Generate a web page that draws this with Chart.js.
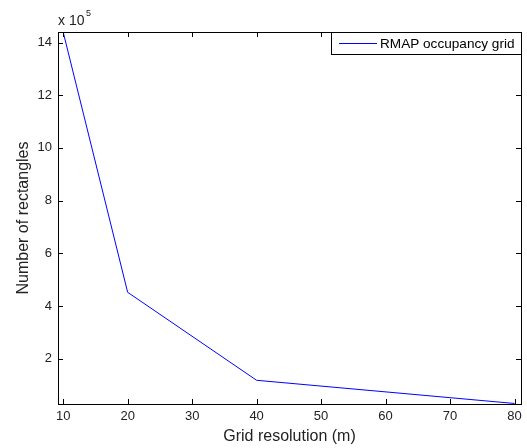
<!DOCTYPE html>
<html>
<head>
<meta charset="utf-8">
<script src="https://cdn.jsdelivr.net/npm/chart.js@4.4.0/dist/chart.umd.min.js"></script>
<style>
  html, body { margin: 0; padding: 0; background: #fff; }
  #wrap { width: 527px; height: 448px; }
</style>
</head>
<body>
<div id="wrap"><canvas id="myChart" width="527" height="448"></canvas></div>
<script>
// values
var gridRes = [10, 20, 40, 80];
var rectCount = [1440000, 452000, 118000, 30000];
var xTicks = [10, 20, 30, 40, 50, 60, 70, 80];
var yTicks = [200000, 400000, 600000, 800000, 1000000, 1200000, 1400000];

var font = "'Liberation Sans', Arial, sans-serif";
var lineBlue = 'rgb(0, 0, 255)';

// MATLAB style box, inward ticks, exponent note and legend
var matlabBits = {
    id: 'matlabBits',
    afterDraw: function (chart) {
        var ctx = chart.ctx;
        var a = chart.chartArea;
        var xs = chart.scales.x, ys = chart.scales.y;
        ctx.save();
        ctx.strokeStyle = '#000';
        ctx.lineWidth = 1;
        ctx.beginPath();
        ctx.rect(Math.round(a.left) + 0.5, Math.round(a.top) + 0.5,
                 Math.round(a.right - a.left), Math.round(a.bottom - a.top));
        ctx.stroke();

        ctx.beginPath();
        xs.ticks.forEach(function (t) {
            var px = Math.round(xs.getPixelForValue(t.value)) + 0.5;
            ctx.moveTo(px, a.bottom); ctx.lineTo(px, a.bottom - 5);
            ctx.moveTo(px, a.top); ctx.lineTo(px, a.top + 5);
        });
        ys.ticks.forEach(function (t) {
            var py = Math.round(ys.getPixelForValue(t.value)) + 0.5;
            ctx.moveTo(a.left, py); ctx.lineTo(a.left + 5, py);
            ctx.moveTo(a.right, py); ctx.lineTo(a.right - 5, py);
        });
        ctx.stroke();

        // x 10^5
        ctx.fillStyle = '#222';
        ctx.font = '14px ' + font;
        ctx.textBaseline = 'alphabetic';
        ctx.textAlign = 'left';
        ctx.fillText('x 10', a.left, 25);
        ctx.font = '9px ' + font;
        ctx.fillText('5', a.left + 28, 16);

        // legend
        var ds = chart.data.datasets[0];
        var lx = 331, ly = Math.round(a.top) + 0.5, lw = Math.round(a.right) - 331, lh = 22;
        ctx.fillStyle = '#fff';
        ctx.fillRect(lx, ly, lw, lh);
        ctx.strokeStyle = '#000';
        ctx.strokeRect(lx + 0.5, ly, lw, lh);
        ctx.strokeStyle = lineBlue;
        ctx.beginPath();
        ctx.moveTo(339, ly + 11); ctx.lineTo(377, ly + 11);
        ctx.stroke();
        ctx.fillStyle = '#000';
        ctx.font = '13.6px ' + font;
        ctx.fillText(ds.label, 380, ly + 15.5);
        ctx.restore();
    }
};

var ctx = document.getElementById('myChart').getContext('2d');
var myChart = new Chart(ctx, {
    type: 'line',
    data: {
        datasets: [{
            label: 'RMAP occupancy grid',
            data: gridRes.map(function (x, i) { return { x: x, y: rectCount[i] }; }),
            borderColor: lineBlue,
            borderWidth: 1,
            pointRadius: 0,
            tension: 0,
            fill: false
        }]
    },
    options: {
        responsive: false,
        animation: false,
        layout: { padding: { top: 32, right: 6, left: 0, bottom: 0 } },
        plugins: { legend: { display: false }, tooltip: { enabled: false } },
        scales: {
            x: {
                type: 'linear',
                min: 9.2,
                max: 81,
                afterBuildTicks: function (s) { s.ticks = xTicks.map(function (v) { return { value: v }; }); },
                afterFit: function (s) { s.height = 44; },
                grid: { display: false, drawTicks: false },
                border: { display: true, color: '#000' },
                ticks: { color: '#222', padding: 5, maxRotation: 0, font: { family: font, size: 13 } },
                title: { display: true, text: 'Grid resolution (m)', color: '#222',
                         padding: { top: 0, bottom: 2 }, font: { family: font, size: 16 } }
            },
            y: {
                type: 'linear',
                min: 28000,
                max: 1440000,
                afterBuildTicks: function (s) { s.ticks = yTicks.map(function (v) { return { value: v }; }); },
                afterFit: function (s) { s.width = 58; },
                grid: { display: false, drawTicks: false },
                border: { display: true, color: '#000' },
                ticks: { color: '#222', padding: 6, font: { family: font, size: 13 },
                         callback: function (v) { return String(v / 100000); } },
                title: { display: true, text: 'Number of rectangles', color: '#222',
                         padding: { top: 14, bottom: 0 }, font: { family: font, size: 16 } }
            }
        }
    },
    plugins: [matlabBits]
});
</script>
</body>
</html>
